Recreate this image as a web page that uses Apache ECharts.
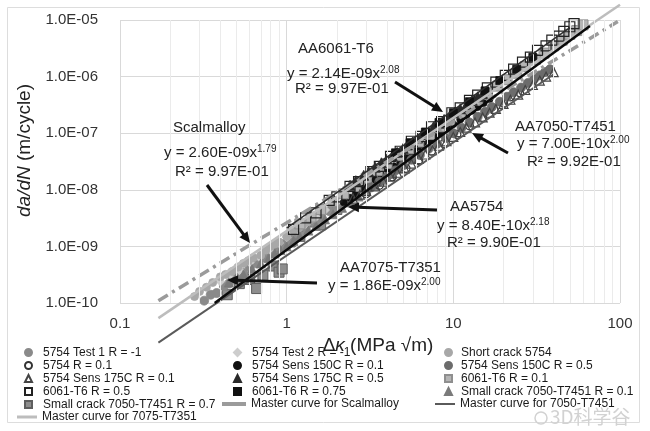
<!DOCTYPE html>
<html>
<head>
<meta charset="utf-8">
<script src="https://cdn.jsdelivr.net/npm/echarts@6/dist/echarts.min.js"></script>
<style>
html,body{margin:0;padding:0;background:#fff;}
#chart{width:650px;height:431px;}
</style>
</head>
<body>
<div id="chart"></div>
<script>
// ---------- DATA ----------
const xTicks = [0.1, 1, 10, 100];
const yTicks = [1e-10, 1e-9, 1e-8, 1e-7, 1e-6, 1e-5];
const xMinorGrid = [0.2,0.3,0.4,0.5,0.6,0.7,0.8,0.9,2,3,4,5,6,7,8,9,20,30,40,50,60,70,80,90];

const test1_5754 = [[0.32,1.1e-10],[0.35,1.4e-10],[0.38,1.5e-10],[0.42,2.0e-10],[0.45,2.2e-10],[0.5,2.9e-10],[0.55,3.4e-10],[0.6,4.3e-10],[0.66,5.0e-10],[0.72,6.3e-10],[0.8,7.6e-10],[0.88,9.5e-10],[0.95,1.1e-9],[1.05,1.35e-9],[1.15,1.7e-9],[1.3,2.1e-9],[1.45,2.7e-9],[1.6,3.3e-9],[1.8,4.2e-9],[2.0,5.3e-9],[2.3,7.0e-9],[2.6,9.0e-9],[3.0,1.2e-8],[3.5,1.65e-8],[4.1,2.3e-8],[4.8,3.1e-8],[5.6,4.2e-8],[6.5,5.7e-8],[7.6,7.8e-8]];
const test2_5754 = [[0.4,2.4e-10],[0.45,3.0e-10],[0.52,3.8e-10],[0.6,5.2e-10],[0.68,6.6e-10],[0.78,8.6e-10],[0.9,1.15e-9],[1.0,1.45e-9],[1.15,1.9e-9],[1.3,2.5e-9],[1.5,3.3e-9],[1.7,4.4e-9],[2.0,6.1e-9],[2.4,8.8e-9],[2.8,1.25e-8],[3.3,1.75e-8],[3.9,2.5e-8],[4.5,3.3e-8],[5.3,4.6e-8],[6.2,6.3e-8],[7.3,8.8e-8],[8.6,1.2e-7]];
const shortCrack_5754 = [[0.28,1.3e-10],[0.33,1.9e-10],[0.4,2.9e-10],[0.47,3.6e-10],[0.55,5.0e-10],[0.63,6.3e-10],[0.7,7.0e-10],[0.8,1.0e-9],[0.9,1.2e-9],[1.1,1.9e-9],[1.25,2.4e-9],[1.4,3.0e-9],[0.3,1.6e-10],[0.36,2.3e-10],[0.43,3.2e-10],[0.51,4.3e-10],[0.59,5.6e-10],[0.75,8.6e-10],[0.85,1.1e-9],[1.0,1.5e-9],[1.18,2.1e-9],[1.33,2.7e-9]];
const r01_5754 = [[3,8.5e-9],[3.6,1.2e-8],[4.3,1.7e-8],[5.2,2.4e-8],[6.2,3.3e-8],[7.4,4.8e-8],[8.8,6.6e-8],[10.5,9.5e-8],[12.5,1.35e-7],[15,1.9e-7],[17.5,2.6e-7],[20,3.4e-7],[22,4.4e-7],[25,5.2e-7]];
const sens150r01 = [[2.2,6e-9],[2.6,8.5e-9],[3.1,1.25e-8],[3.7,1.8e-8],[4.4,2.6e-8],[5.2,3.7e-8],[6.1,5.2e-8],[7.2,7.3e-8],[8.5,1.0e-7],[10,1.45e-7],[12,2.1e-7],[14,2.9e-7],[16.5,4.0e-7],[2.4,7.2e-9],[2.85,1.05e-8],[3.4,1.5e-8],[4.05,2.2e-8],[4.8,3.1e-8],[5.65,4.4e-8],[6.6,6.2e-8],[7.8,8.6e-8],[9.2,1.2e-7],[11,1.75e-7],[13,2.5e-7],[15.2,3.4e-7]];
const sens150r05 = [[3.2,1.1e-8],[4,1.7e-8],[5,2.7e-8],[6.3,4.1e-8],[8,6.5e-8],[10,1.0e-7],[12.5,1.55e-7],[15.5,2.4e-7],[19,3.6e-7],[23,5.3e-7],[28,7.7e-7],[33,1.05e-6],[38,1.35e-6],[3.6,1.4e-8],[4.5,2.2e-8],[5.6,3.4e-8],[7.1,5.3e-8],[9,8.2e-8],[11.2,1.25e-7],[14,1.95e-7],[17,2.9e-7],[21,4.4e-7],[25.5,6.4e-7],[30.5,9.0e-7],[35.5,1.2e-6]];
const sens175r01 = [[2.5,7e-9],[3,9.5e-9],[3.8,1.4e-8],[4.6,2.0e-8],[5.6,2.9e-8],[6.8,4.2e-8],[8.2,6.0e-8],[10,8.6e-8],[12,1.25e-7],[15,1.9e-7],[18,2.7e-7],[22,3.9e-7],[27,5.8e-7],[33,8.5e-7],[40,1.2e-6],[2.75,8.2e-9],[3.4,1.15e-8],[4.2,1.7e-8],[5.1,2.4e-8],[6.2,3.5e-8],[7.5,5.0e-8],[9.1,7.2e-8],[11,1.05e-7],[13.5,1.55e-7],[16.5,2.3e-7],[20,3.3e-7],[24.5,4.8e-7],[30,7.1e-7],[36,1.0e-6]];
const sens175r05 = [[2.4,1.2e-8],[2.9,1.8e-8],[3.4,2.5e-8],[4,3.5e-8],[4.6,4.6e-8],[5.3,6.2e-8],[6.1,8.2e-8],[7,1.1e-7],[8.2,1.5e-7],[9.5,2.0e-7],[11,2.7e-7],[13,3.8e-7],[15,5.0e-7],[2.6,1.45e-8],[3.1,2.1e-8],[3.7,3.0e-8],[4.3,4.0e-8],[5,5.4e-8],[5.7,7.0e-8],[6.5,9.5e-8],[7.6,1.3e-7],[8.8,1.75e-7],[10.2,2.35e-7],[12,3.2e-7],[14,4.4e-7]];
const t6r01 = [[1.2,2.5e-9],[1.6,4.5e-9],[2.2,8.5e-9],[3,1.6e-8],[4,2.9e-8],[5.4,5.3e-8],[7.2,9.5e-8],[9.5,1.7e-7],[12.5,3.0e-7],[16,5.0e-7],[21,8.8e-7],[27,1.5e-6],[35,2.6e-6],[45,4.4e-6],[55,6.5e-6],[60,8.2e-6],[1.4,3.3e-9],[1.9,6.2e-9],[2.6,1.15e-8],[3.5,2.2e-8],[4.7,4.0e-8],[6.2,7.0e-8],[8.3,1.3e-7],[11,2.3e-7],[14,3.8e-7],[18.5,6.8e-7],[24,1.15e-6],[31,2.0e-6],[40,3.5e-6],[50,5.6e-6]];
const t6r05 = [[1.1,2.0e-9],[1.5,3.9e-9],[2,7.5e-9],[2.7,1.4e-8],[3.6,2.6e-8],[4.8,4.8e-8],[6.4,8.8e-8],[8.5,1.6e-7],[11,2.8e-7],[14,4.7e-7],[18,8.0e-7],[23,1.35e-6],[29,2.2e-6],[36,3.5e-6],[43,5.2e-6],[50,7.6e-6],[1.3,3.2e-9],[1.8,6.5e-9],[2.4,1.15e-8],[3.2,2.1e-8],[4.2,3.9e-8],[5.6,7.2e-8],[7.4,1.3e-7],[9.8,2.3e-7],[12.5,3.8e-7],[16,6.3e-7],[20.5,1.05e-6],[26,1.8e-6],[32,2.9e-6],[39,4.4e-6],[46,6.3e-6],[53,8.6e-6]];
const t6r075 = [[4.5,4.5e-8],[5.5,6.8e-8],[6.8,1.05e-7],[8.2,1.55e-7],[10,2.3e-7],[12.5,3.6e-7],[15.5,5.6e-7],[19,8.5e-7],[24,1.35e-6],[30,2.2e-6]];
const small7050r01 = [[0.45,2.3e-10],[0.55,3.2e-10],[0.7,5.0e-10],[0.85,7.5e-10],[1.0,1.0e-9],[1.2,1.5e-9],[1.5,2.3e-9],[1.9,3.7e-9],[2.4,6.0e-9],[3.0,9.5e-9],[3.8,1.5e-8],[4.8,2.4e-8],[0.5,2.8e-10],[0.62,4.0e-10],[0.78,6.2e-10],[0.92,8.6e-10],[1.1,1.25e-9],[1.35,1.9e-9],[1.7,3.0e-9],[2.15,4.8e-9],[2.7,7.6e-9],[3.4,1.2e-8],[4.3,1.9e-8]];
const small7050r07 = [[0.44,1.4e-10],[0.52,2.2e-10],[0.6,2.6e-10],[0.66,1.8e-10],[0.72,3.1e-10],[0.83,4.5e-10],[0.9,3.5e-10],[0.94,4.0e-10],[1.05,1.2e-9],[1.2,1.5e-9],[1.42,2.7e-9],[1.6,2.4e-9],[2.0,4.5e-9]];

const masterScalmalloy = [[0.17,1.1e-10],[97,9.4e-6]];
const master7050 = [[0.17,2.0e-11],[40,1.1e-6]];
const master7075 = [[0.17,5.4e-11],[100,1.86e-5]];
const fitAA5754 = [[0.37,1.0e-10],[66,7.8e-6]];
const fitAA6061 = [[1.0,2.1e-9],[50,7.3e-6]];

// annotation texts
const annoTexts = [
  'Scalmalloy', 'y = 2.60E-09x{s|1.79}', 'R² = 9.97E-01',
  'AA6061-T6', 'y = 2.14E-09x{s|2.08}', 'R² = 9.97E-01',
  'AA7050-T7451', 'y = 7.00E-10x{s|2.00}', 'R² = 9.92E-01',
  'AA5754', 'y = 8.40E-10x{s|2.18}', 'R² = 9.90E-01',
  'AA7075-T7351', 'y = 1.86E-09x{s|2.00}'
];
const annoPos = [
  [173,128],[164,153],[175,172],
  [298,49],[287,74],[295,89],
  [515,127],[517,144],[527,162],
  [450,207],[437,226],[447,243],
  [340,268],[328,286]
];
const arrows = [
  [207,185,250,243],
  [395,82,443,112],
  [508,153,472,133],
  [437,210,348,207],
  [317,283,227,280]
];

// ---------- CHART ----------
const FONT = '"Liberation Sans", Arial, sans-serif';
const chart = echarts.init(document.getElementById('chart'));

function sciLabel(v){
  const e = Math.round(Math.log10(v));
  const m = v / Math.pow(10, e);
  return m.toFixed(1) + 'E' + (e < 0 ? '-' : '+') + String(Math.abs(e)).padStart(2,'0');
}

function scatter(name, data, symbol, size, color, border, bw){
  return {
    name, type:'scatter', data, symbol, symbolSize:size, z:3,
    itemStyle:{color, borderColor:border || color, borderWidth: bw == null ? 0.8 : bw, opacity:1}
  };
}
function line(name, data, color, width, type, z){
  return {
    name, type:'line', data, symbol:'none', clip:false, z: z || 4, silent:true,
    lineStyle:{color, width, type: type || 'solid'},
    itemStyle:{color}
  };
}

const series = [
  {type:'line', data:[], silent:true, z:1,
   markLine:{silent:true, symbol:['none','none'], label:{show:false},
     lineStyle:{color:'#ebebeb', width:1, type:'solid'},
     data: xMinorGrid.map(v => ({xAxis:v}))}},
  scatter('Small crack 7050-T7451 R = 0.7', small7050r07, 'rect', 10, '#8e8e8e', '#5e5e5e', 1),
  scatter('5754 Test 1 R = -1', test1_5754, 'circle', 9, '#8a8a8a'),
  scatter('5754 Test 2 R = -1', test2_5754, 'diamond', 9, '#cdcdcd'),
  scatter('Short crack 5754', shortCrack_5754, 'circle', 8, '#a8a8a8'),
  scatter('Small crack 7050-T7451 R = 0.1', small7050r01, 'triangle', 9, '#7a7a7a'),
  scatter('5754 Sens 150C R = 0.1', sens150r01, 'circle', 7, '#111'),
  scatter('6061-T6 R = 0.1', t6r01, 'rect', 10, '#b5b5b5', '#8f8f8f', 1),
  scatter('5754 R = 0.1', r01_5754, 'circle', 8, 'rgba(255,255,255,0)', '#333', 1.2),
  scatter('5754 Sens 150C R = 0.5', sens150r05, 'circle', 9, '#6c6c6c'),
  scatter('5754 Sens 175C R = 0.1', sens175r01, 'triangle', 9, 'rgba(255,255,255,0)', '#444', 1.2),
  scatter('6061-T6 R = 0.5', t6r05, 'rect', 10, 'rgba(255,255,255,0)', '#222', 1.2),
  scatter('5754 Sens 175C R = 0.5', sens175r05, 'triangle', 10, '#2a2a2a'),
  scatter('6061-T6 R = 0.75', t6r075, 'rect', 8, '#111'),
  line('Master curve for 7050-T7451', master7050, '#5a5a5a', 2),
  line('Master curve for 7075-T7351', master7075, '#bdbdbd', 2.5),
  line('Master curve for Scalmalloy', masterScalmalloy, '#9b9b9b', 3.5, [11,5,3,5]),
  line('fit AA6061-T6', fitAA6061, '#2e2e2e', 1.5, 'solid', 5),
  line('fit AA5754', fitAA5754, '#0a0a0a', 2.5, 'solid', 5)
];

function legend(left, top, data, w, h, padLeft, icon){
  const o = {orient:'vertical', left, top, data, itemWidth:w, itemHeight:h, itemGap:0,
          textStyle:{fontFamily:FONT, fontSize:12, color:'#1a1a1a', lineHeight:13, padding:[0,0,0,padLeft]},
          selectedMode:false, padding:0};
  if (icon) o.icon = icon;
  return o;
}

const graphics = [
  {type:'rect', shape:{x:7.5, y:7.5, width:632, height:415}, style:{fill:'none', stroke:'#dddddd', lineWidth:1}, z:-1, silent:true}
];
annoTexts.forEach((t,i) => {
  graphics.push({type:'text', x:annoPos[i][0], y:annoPos[i][1], z:10, silent:true,
    style:{text:t, font:'15px ' + FONT, fill:'#222', align:'left', verticalAlign:'middle',
      rich:{s:{fontSize:10, fontFamily:FONT, fill:'#222', verticalAlign:'top', lineHeight:17}}}});
});
arrows.forEach(a => {
  const [x1,y1,x2,y2] = a;
  const dx = x2-x1, dy = y2-y1, L = Math.hypot(dx,dy);
  const ux = dx/L, uy = dy/L, nx = -uy, ny = ux;
  const hl = 11, hw = 5;
  const bx = x2 - ux*hl, by = y2 - uy*hl;
  graphics.push({type:'line', z:10, silent:true, shape:{x1, y1, x2:bx+ux*2, y2:by+uy*2}, style:{stroke:'#111', lineWidth:3}});
  graphics.push({type:'polygon', z:10, silent:true, shape:{points:[[x2,y2],[bx+nx*hw,by+ny*hw],[bx-nx*hw,by-ny*hw]]}, style:{fill:'#111'}});
});
graphics.push({type:'text', x:550, y:417, z:10, silent:true,
  style:{text:'3D科学谷', font:'19px "Noto Sans CJK SC", ' + FONT, fill:'#d2d2d2', align:'left', verticalAlign:'middle'}});
graphics.push({type:'circle', z:10, silent:true, shape:{cx:541, cy:418, r:6}, style:{fill:'none', stroke:'#d2d2d2', lineWidth:1.5}});

chart.setOption({
  animation:false,
  backgroundColor:'#fff',
  grid:{left:120, right:30, top:20, bottom:128, containLabel:false},
  xAxis:{
    type:'log', logBase:10, min:xTicks[0], max:xTicks[xTicks.length-1], splitNumber:3,
    axisLine:{show:false}, axisTick:{show:false},
    splitLine:{show:true, lineStyle:{color:'#d9d9d9', width:1}},
    axisLabel:{fontFamily:FONT, fontSize:15, color:'#333', margin:13,
      formatter: v => String(Number(v.toPrecision(3)))},
    name:'{n|Δ}{i|κ }{n|(MPa √m)}', nameLocation:'middle', nameGap:14,
    nameTextStyle:{padding:[0,0,0,16], rich:{
      n:{fontFamily:FONT, fontSize:19, color:'#222'},
      i:{fontFamily:FONT, fontSize:19, color:'#222', fontStyle:'italic'}}}
  },
  yAxis:{
    type:'log', logBase:10, min:yTicks[0], max:yTicks[yTicks.length-1], splitNumber:5,
    axisLine:{show:false}, axisTick:{show:false},
    splitLine:{show:true, lineStyle:{color:'#d9d9d9', width:1}},
    axisLabel:{fontFamily:FONT, fontSize:15, color:'#333', margin:22, formatter: v => sciLabel(v)},
    name:'{i|da/dN}{n| (m/cycle)}', nameLocation:'middle', nameGap:85,
    nameTextStyle:{padding:[0,0,0,22], rich:{
      n:{fontFamily:FONT, fontSize:19, color:'#222'},
      i:{fontFamily:FONT, fontSize:19, color:'#222', fontStyle:'italic'}}}
  },
  legend:[
    legend(24, 346, ['5754 Test 1 R = -1','5754 R = 0.1','5754 Sens 175C R = 0.1','6061-T6 R = 0.5','Small crack 7050-T7451 R = 0.7'], 7, 7, 6),
    legend(17, 410.5, ['Master curve for 7075-T7351'], 20, 3, 0, 'rect'),
    legend(233, 346, ['5754 Test 2 R = -1','5754 Sens 150C R = 0.1','5754 Sens 175C R = 0.5','6061-T6 R = 0.75'], 7, 7, 6),
    legend(222, 397.5, ['Master curve for Scalmalloy'], 24, 4, 0, 'rect'),
    legend(444, 346, ['Short crack 5754','5754 Sens 150C R = 0.5','6061-T6 R = 0.1','Small crack 7050-T7451 R = 0.1'], 7, 7, 4),
    legend(435, 397.5, ['Master curve for 7050-T7451'], 20, 2, 0, 'rect')
  ],
  series,
  graphic: graphics
});
</script>
</body>
</html>
